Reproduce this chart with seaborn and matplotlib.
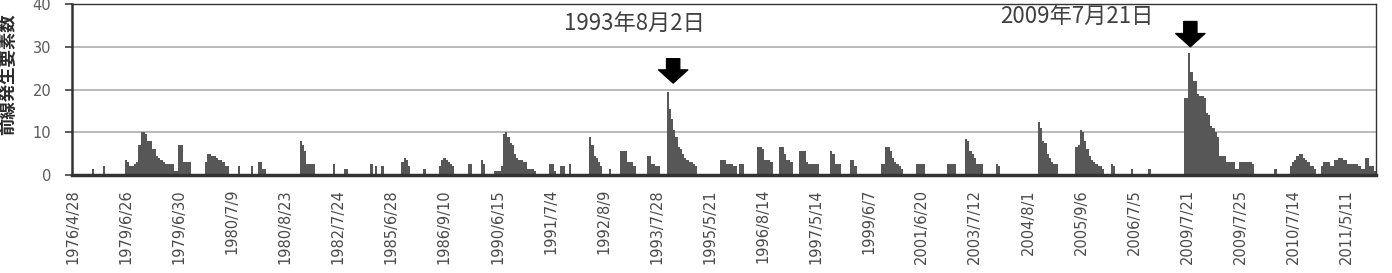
import numpy as np
import pandas as pd
import matplotlib
matplotlib.use("Agg")
import matplotlib.pyplot as plt
from matplotlib.patches import FancyArrowPatch, ArrowStyle
import seaborn as sns

# ---- data -------------------------------------------------------------
counts = [
    0, 0, 0, 0, 0, 0, 0, 0, 0, 1.5, 0, 0, 0, 0, 2, 0, 0, 0, 0, 0, 0, 0, 0, 0,
    3.5, 3, 2, 2, 2.5, 3, 7, 10, 10, 9.5, 8, 8, 6, 6, 4.5, 4, 3.5, 3, 2.5, 2.5, 2.5, 2.5, 1, 1,
    7, 7, 3, 3, 3, 3, 0, 0, 0, 0, 0, 0, 3, 5, 5, 4.5, 4.5, 4, 3.5, 3.5, 3, 2, 2, 0,
    0, 0, 0, 2, 0, 0, 0, 0, 0, 2, 0, 0, 3, 3, 1.5, 1.5, 0, 0, 0, 0, 0, 0, 0, 0,
    0, 0, 0, 0, 0, 0, 0, 8, 7, 5.5, 2.5, 2.5, 2.5, 2.5, 0, 0, 0, 0, 0, 0, 0, 0, 2.5, 0,
    0, 0, 0, 1.5, 1.5, 0, 0, 0, 0, 0, 0, 0, 0, 0, 0, 2.5, 0, 2, 0, 0, 2, 0, 0, 0,
    0, 0, 0, 0, 0, 3, 4, 3.5, 2, 0, 0, 0, 0, 0, 0, 1.5, 0, 0, 0, 0, 0, 0, 2, 3.5,
    4, 3.5, 3, 2.5, 2, 0, 0, 0, 0, 0, 0, 2.5, 2.5, 0, 0, 0, 0, 3.5, 2.5, 0, 0, 0, 0, 1,
    1, 1, 2, 9.5, 10, 9, 7.5, 7, 5, 4, 3.5, 3.5, 3, 3, 1.5, 1.5, 1.5, 1, 0, 0, 0, 0, 0, 0,
    2.5, 2.5, 1, 0, 0, 2, 2, 0, 0, 2.5, 0, 0, 0, 0, 0, 0, 0, 0, 9, 7, 4.5, 4, 3, 2,
    0, 0, 0, 1.5, 0, 0, 0, 0, 5.5, 5.5, 5.5, 3, 3, 3, 2, 0, 0, 0, 0, 0, 4.5, 4.5, 2.5, 2.5,
    2, 2, 0, 0, 0, 19.5, 15.5, 13, 10.5, 9, 6.5, 6, 5, 4, 3.5, 3, 3, 2.5, 2, 0, 0, 0, 0, 0,
    0, 0, 0, 0, 0, 3.5, 3.5, 3.5, 2.5, 2.5, 2.5, 2, 2, 0, 2.5, 2.5, 0, 0, 0, 0, 0, 0, 6.5, 6.5,
    6, 3.5, 3.5, 3.5, 3, 0, 0, 0, 6.5, 6.5, 5, 3.5, 3.5, 3, 0, 0, 0, 5.5, 5.5, 5.5, 3, 2.5, 2.5, 2.5,
    2.5, 2.5, 0, 0, 0, 0, 0, 5.5, 5, 2.5, 2.5, 2.5, 0, 0, 0, 0, 3.5, 3.5, 2, 0, 0, 0, 0, 0,
    0, 0, 0, 0, 0, 0, 2.5, 2.5, 6.5, 6.5, 5.5, 4, 3, 2.5, 2, 1.5, 0, 0, 0, 0, 0, 0, 2.5, 2.5,
    2.5, 2.5, 0, 0, 0, 0, 0, 0, 0, 0, 0, 0, 2.5, 2.5, 2.5, 2.5, 0, 0, 0, 0, 8.5, 8, 5.5, 5,
    4, 2.5, 2.5, 2.5, 0, 0, 0, 0, 0, 0, 2.5, 2, 0, 0, 0, 0, 0, 0, 0, 0, 0, 0, 0, 0,
    0, 0, 0, 0, 0, 12.5, 11, 8, 7.5, 5, 4, 3, 2.5, 2.5, 0, 0, 0, 0, 0, 0, 0, 0, 6.5, 7,
    10.5, 10, 8, 6, 4.5, 3.5, 3, 2.5, 2, 2, 1.5, 0, 0, 0, 2.5, 2, 0, 0, 0, 0, 0, 0, 0, 1.5,
    0, 0, 0, 0, 0, 0, 0, 1.5, 0, 0, 0, 0, 0, 0, 0, 0, 0, 0, 0, 0, 0, 0, 0, 18,
    18, 28.5, 24, 22, 22, 19, 18.5, 18.5, 18, 14.5, 14, 11.5, 11, 10, 9, 4.5, 4.5, 4.5, 3, 3, 3, 3, 1.5, 1.5,
    3, 3, 3, 3, 3, 3, 2.5, 0, 0, 0, 0, 0, 0, 0, 0, 0, 1.5, 0, 0, 0, 0, 0, 0, 2,
    3, 3.5, 4.5, 5, 5, 4, 3.5, 3, 2, 2, 1.5, 0, 0, 2, 3, 3, 3, 2, 2, 3.5, 3.5, 4, 4, 3.5,
    3.5, 2.5, 2.5, 2.5, 2.5, 2.5, 2, 1.5, 1.5, 4, 4, 2, 2, 1,
]
tick_labels = [
    "1976/4/28", "1979/6/26", "1979/6/30", "1980/7/9", "1980/8/23",
    "1982/7/24", "1985/6/28", "1986/9/10", "1990/6/15", "1991/7/4",
    "1992/8/9", "1993/7/28", "1995/5/21", "1996/8/14", "1997/5/14",
    "1999/6/7", "2001/6/20", "2003/7/12", "2004/8/1", "2005/9/6",
    "2006/7/5", "2009/7/21", "2009/7/25", "2010/7/14", "2011/5/11",
]
label_every = 24
y_ticks = [0, 10, 20, 30, 40]
y_label = "前線発生要素数"
notes = ["1993年8月2日", "2009年7月21日"]
note_peaks = [269, 505]

# ---- plot -------------------------------------------------------------
sns.set_style("white")
plt.rcParams["font.family"] = ["DejaVu Sans"]
cjk = ["Noto Sans CJK JP", "DejaVu Sans"]

bar_color = "#575757"
df = pd.DataFrame({"idx": np.arange(len(counts)), "count": counts})

fig = plt.figure(figsize=(13.92, 2.73), dpi=100)
ax = fig.add_axes([72 / 1392, 1 - 175 / 273, 1304 / 1392, 171 / 273])
sns.barplot(data=df, x="idx", y="count", native_scale=True, width=1.0,
            color=bar_color, saturation=1, errorbar=None, ax=ax, zorder=2)
for p in ax.patches:
    p.set_edgecolor(bar_color)
    p.set_linewidth(0)
    p.set_antialiased(False)

ax.set_xlim(-0.5, len(counts) - 0.5)
ax.set_ylim(0, 40)
ax.set_xticks(np.arange(0, len(tick_labels) * label_every, label_every))
ax.set_xticklabels(tick_labels, rotation=90, fontsize=10.5, color="#4a4a4a")
ax.set_yticks(y_ticks)
ax.set_yticklabels([str(v) for v in y_ticks], fontsize=10.5, color="#5a5a5a")
ax.tick_params(axis="x", length=0, pad=10)
ax.tick_params(axis="y", length=5, width=1.2, color="#404040", direction="out",
               pad=10, left=True)
ax.set_xlabel("")
ax.set_ylabel("")
ax.yaxis.grid(True, color="#b4b4b4", linewidth=1.3, zorder=0)
ax.set_axisbelow(True)
for s in ax.spines.values():
    s.set_color("#333333")
    s.set_linewidth(1.0)
    s.set_visible(True)
ax.spines["left"].set_linewidth(1.8)
ax.spines["bottom"].set_linewidth(2.5)

fig.text(8 / 1392, 1 - 74 / 273, y_label, rotation=90, fontsize=12.5,
         fontweight="bold", family=cjk, va="center", ha="center", color="#2a2a2a")

# annotations
ax.text(note_peaks[0] - 15, 35.4, notes[0], fontsize=16, family=cjk,
        ha="center", va="center", color="#404040")
ax.text(note_peaks[1] - 51, 37.0, notes[1], fontsize=16, family=cjk,
        ha="center", va="center", color="#404040")

style = ArrowStyle.Simple(head_length=9.5, head_width=21, tail_width=9.5)
for xi, tip, tail in [(note_peaks[0] + 2.5, 21.5, 27.2), (note_peaks[1] + 0.5, 30.0, 35.9)]:
    arr = FancyArrowPatch((xi, tail), (xi, tip), arrowstyle=style,
                          mutation_scale=1, color="black", shrinkA=0, shrinkB=0,
                          zorder=5)
    ax.add_patch(arr)

fig.savefig("out.png", dpi=100)
